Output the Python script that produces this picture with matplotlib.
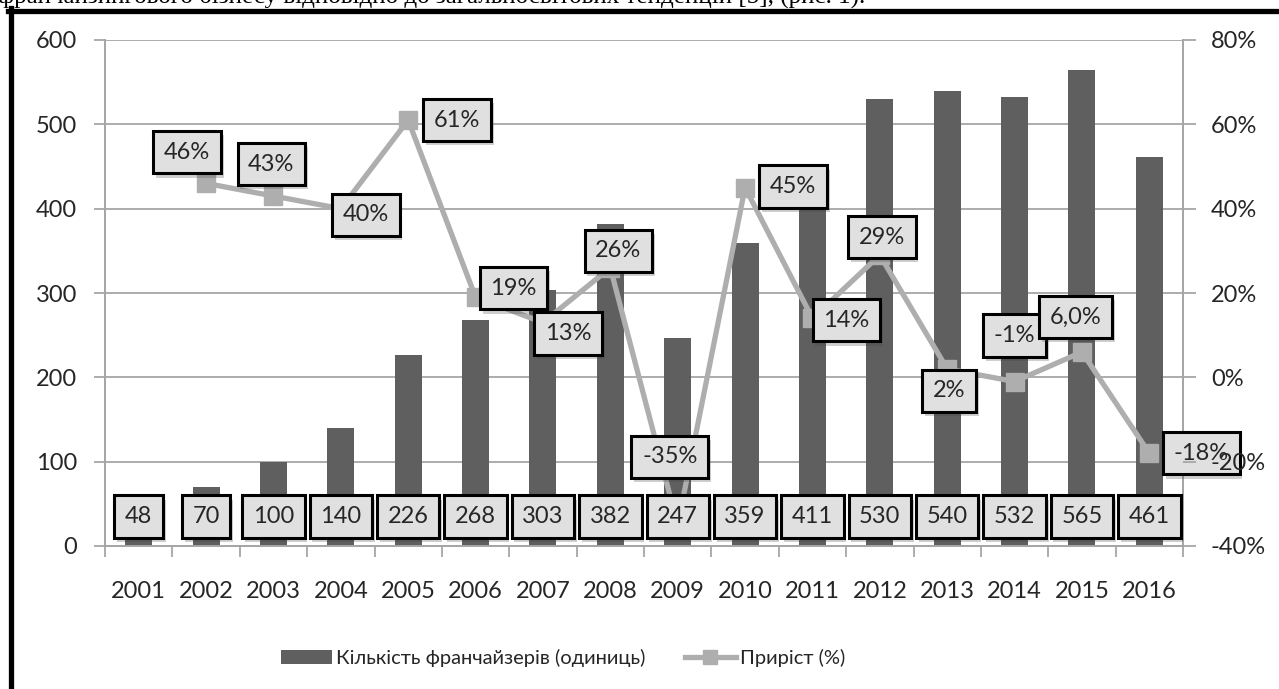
import numpy as np
import matplotlib
matplotlib.use("Agg")
import matplotlib.pyplot as plt
from matplotlib.lines import Line2D
from matplotlib.patches import Patch
import matplotlib.patheffects as pe

plt.rcParams['font.family'] = ['Lato', 'DejaVu Sans']

# --- data ---------------------------------------------------------------
years = ['2001', '2002', '2003', '2004', '2005', '2006', '2007', '2008',
         '2009', '2010', '2011', '2012', '2013', '2014', '2015', '2016']
franchisors = [48, 70, 100, 140, 226, 268, 303, 382, 247, 359, 411, 530,
               540, 532, 565, 461]
growth = [np.nan, 46, 43, 40, 61, 19, 13, 26, -35, 45, 14, 29, 2, -1, 6.0, -18]
growth_text = ['', '46%', '43%', '40%', '61%', '19%', '13%', '26%', '-35%',
               '45%', '14%', '29%', '2%', '-1%', '6,0%', '-18%']
left_ticks = [0, 100, 200, 300, 400, 500, 600]
right_ticks = [-40, -20, 0, 20, 40, 60, 80]

# label placement for the growth series (pixel offsets from each point)
growth_offsets = [(0, 0), (-19, 31), (-2, 32), (25, -6), (49, 0), (38, 9),
                  (25, -11), (8, 17), (-8, 68), (48, 1), (34, -2), (2, 18),
                  (2, -22), (0, 46), (-6, 35), (52, 0)]

W, H = 1279, 689
fig = plt.figure(figsize=(W / 100, H / 100), dpi=100)
fig.patch.set_facecolor('white')

ax = fig.add_axes([105 / W, 1 - 546 / H, (1183 - 105) / W, (546 - 40) / H])
ax2 = ax.twinx()

x = np.arange(len(years))
bar_color = '#5f5f5f'
line_color = '#aeaeae'
grid_color = '#a6a6a6'
text_color = '#262626'
fs = 17

ax.bar(x, franchisors, width=0.4, color=bar_color, zorder=2)
ax.set_xlim(-0.5, len(years) - 0.5)
ax.set_ylim(0, 600)
ax.set_yticks(left_ticks)
ax.set_axisbelow(True)
ax.yaxis.grid(True, color=grid_color, linewidth=1.3)

ax2.plot(x, growth, color=line_color, linewidth=3.8, marker='s',
         markersize=13.5, markerfacecolor=line_color,
         markeredgecolor=line_color, zorder=3)
ax2.set_ylim(-40, 80)
ax2.set_yticks(right_ticks)
ax2.set_yticklabels([f'{t}%' for t in right_ticks])

for a in (ax, ax2):
    for s in a.spines.values():
        s.set_color(grid_color)
        s.set_linewidth(1.3)
    a.spines['top'].set_visible(False)

ax.set_xticks(x)
ax.set_xticklabels(years)
ax.set_xticks(np.arange(-0.5, len(years)), minor=True)
ax.tick_params(axis='x', which='major', length=0, pad=25,
               labelsize=fs, labelcolor=text_color)
ax.tick_params(axis='x', which='minor', length=8, width=1.3,
               color=grid_color, direction='out')
ax.tick_params(axis='y', length=8, width=1.3, color=grid_color, pad=12,
               labelsize=fs, labelcolor=text_color)
ax2.tick_params(axis='y', length=9, width=1.3, color=grid_color, pad=11,
                labelsize=fs, labelcolor=text_color)
ax2.yaxis.set_zorder(10)

box_style = dict(boxstyle='square,pad=0.45', facecolor='#e0e0e0',
                 edgecolor='black', linewidth=2.2)
shadow = [pe.withSimplePatchShadow(offset=(2, -3), alpha=0.25)]

# value labels at the base of each bar
for xi, v in zip(x, franchisors):
    t = ax2.annotate(str(v), xy=(xi, 35), xycoords=ax.transData,
                     ha='center', va='center', fontsize=fs, color=text_color,
                     bbox=box_style, zorder=6)
    t.get_bbox_patch().set_path_effects(shadow)

# growth labels
for xi, g, s, off in zip(x, growth, growth_text, growth_offsets):
    if not s:
        continue
    t = ax2.annotate(s, xy=(xi, g), xytext=off, textcoords='offset pixels',
                     ha='center', va='center', fontsize=fs, color=text_color,
                     bbox=box_style, zorder=5)
    t.get_bbox_patch().set_path_effects(shadow)

# legend
handles = [Patch(facecolor=bar_color, edgecolor='none'),
           Line2D([], [], color=line_color, linewidth=3.8, marker='s',
                  markersize=10, markerfacecolor=line_color,
                  markeredgecolor=line_color)]
labels = ['Кількість франчайзерів (одиниць)', 'Приріст (%)']
leg = fig.legend(handles, labels, loc='center', ncol=2, frameon=False,
                 bbox_to_anchor=(563 / W, 1 - 658 / H), fontsize=14.5,
                 handlelength=2.5, handleheight=0.65, handletextpad=0.2,
                 columnspacing=2.0)
for txt in leg.get_texts():
    txt.set_color(text_color)

# surrounding frame and the line of text above it
fig.add_artist(Line2D([8 / W, 1.0], [1 - 10.5 / H, 1 - 10.5 / H],
                      color='black', linewidth=3.8, transform=fig.transFigure))
fig.add_artist(Line2D([10.5 / W, 10.5 / W], [0, 1 - 8 / H],
                      color='black', linewidth=3.8, transform=fig.transFigure))
fig.text(-2 / W, 1 - 3 / H,
         'франчайзингового бізнесу відповідно до загальносвітових тенденцій [5], (рис. 1).',
         family='Liberation Serif', fontsize=18, va='baseline', ha='left',
         color='black')

fig.savefig('out.png', dpi=100)
